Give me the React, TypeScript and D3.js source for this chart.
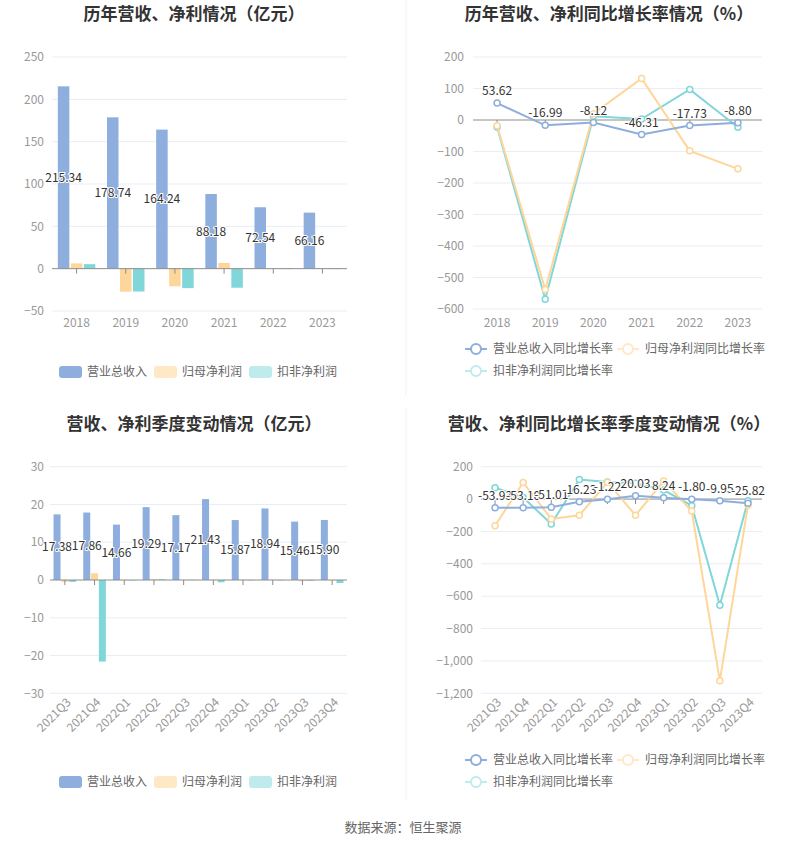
import React from 'react';
import * as d3 from 'd3';

// annual data (亿元)
const years = ['2018', '2019', '2020', '2021', '2022', '2023'];
const yearRevenue = [215.34, 178.74, 164.24, 88.18, 72.54, 66.16];
const yearProfit = [6.2, -27.2, -20.8, 6.8, 0.2, -0.3];
const yearDeducted = [5.3, -27.0, -23.0, -22.5, -0.5, -0.5];

// annual growth (%)
const yearRevenueGrowth = [53.62, -16.99, -8.12, -46.31, -17.73, -8.8];
const yearProfitGrowth = [-18, -538, 20, 132, -98, -155];
const yearDeductedGrowth = [-22, -569, 12, 3, 97, -23];

// quarterly data (亿元)
const quarters = ['2021Q3', '2021Q4', '2022Q1', '2022Q2', '2022Q3', '2022Q4', '2023Q1', '2023Q2', '2023Q3', '2023Q4'];
const qRevenue = [17.38, 17.86, 14.66, 19.29, 17.17, 21.43, 15.87, 18.94, 15.46, 15.9];
const qProfit = [-0.5, 1.8, -0.1, 0.2, 0.05, 0.1, 0.1, 0.1, -0.3, -0.1];
const qDeducted = [-0.5, -21.6, -0.1, 0.2, 0.05, -0.6, -0.1, -0.1, -0.2, -0.8];

// quarterly growth (%)
const qRevenueGrowth = [-53.93, -53.1, -51.01, -16.23, -1.22, 20.03, 8.24, -1.8, -9.95, -25.82];
const qProfitGrowth = [-165, 103, -123, -100, 104, -100, 111, -74, -1123, -38];
const qDeductedGrowth = [70, 10, -154, 121, 105, 97, 56, -41, -656, -10];

const barTicks1 = [-50, 0, 50, 100, 150, 200, 250];
const barTicks3 = [-30, -20, -10, 0, 10, 20, 30];
const lineTicks2 = [-600, -500, -400, -300, -200, -100, 0, 100, 200];
const lineTicks4 = [-1200, -1000, -800, -600, -400, -200, 0, 200];

const barNames = ['营业总收入', '归母净利润', '扣非净利润'];
const lineNames = ['营业总收入同比增长率', '归母净利润同比增长率', '扣非净利润同比增长率'];

const FONT = '"Noto Sans CJK SC", "Noto Sans", sans-serif';
const BLUE = '#8eaedd';
const ORANGE = '#ffd699';
const TEAL = '#80d6d8';
const LEGEND = [BLUE, '#ffe8c5', '#c0ebec'];
const GRID = '#e9edf5';
const AXIS = '#8c8c8c';
const LABEL = '#999';

const fmt = d3.format(',');

function Title({ x, y, text }) {
  return (
    <text x={x} y={y} textAnchor="middle" fontSize={17} fontWeight="bold" fill="#333" fontFamily={FONT}>{text}</text>
  );
}

function YAxis({ y, ticks, x0, x1, labelX }) {
  return (
    <g fontFamily={FONT} fontSize={12} fill={LABEL}>
      {ticks.map(t => (
        <g key={t}>
          {t !== 0 && <line x1={x0} x2={x1} y1={y(t)} y2={y(t)} stroke={GRID} />}
          <text x={labelX} y={y(t)} dy="0.35em" textAnchor="end">{fmt(t)}</text>
        </g>
      ))}
    </g>
  );
}

function ZeroAxis({ x, y, cats, x0, x1 }) {
  return (
    <g>
      <line x1={x0} x2={x1} y1={y(0)} y2={y(0)} stroke={AXIS} />
      {cats.map(c => (
        <line key={c} x1={x(c) + x.bandwidth() / 2} x2={x(c) + x.bandwidth() / 2} y1={y(0)} y2={y(0) + 5} stroke={AXIS} />
      ))}
    </g>
  );
}

function XLabels({ x, cats, y, rotate }) {
  return (
    <g fontFamily={FONT} fontSize={12} fill={LABEL}>
      {cats.map(c => {
        const cx = x(c) + x.bandwidth() / 2;
        return rotate ? (
          <text key={c} transform={`translate(${cx + 4},${y}) rotate(-45)`} textAnchor="end" dy="0.35em">{c}</text>
        ) : (
          <text key={c} x={cx} y={y} textAnchor="middle" dy="0.35em">{c}</text>
        );
      })}
    </g>
  );
}

function BarPanel({ title, titleY, cats, series, domain, ticks, range, x0, x1, labelX, barW, gap, xLabelY, rotate, legendY }) {
  const x = d3.scaleBand().domain(cats).range([x0, x1]);
  const y = d3.scaleLinear().domain(domain).range(range);
  const colors = [BLUE, ORANGE, TEAL];
  const groupW = barW * 3 + gap * 2;
  const legendX = [59, 154, 249];
  return (
    <g>
      <Title x={194} y={titleY} text={title} />
      <YAxis y={y} ticks={ticks} x0={x0} x1={x1} labelX={labelX} />
      {series.map((s, si) => (
        <g key={si}>
          {s.map((v, i) => {
            const bx = x(cats[i]) + (x.bandwidth() - groupW) / 2 + si * (barW + gap);
            return <rect key={i} x={bx} width={barW} y={Math.min(y(v), y(0))} height={Math.abs(y(v) - y(0))} fill={colors[si]} />;
          })}
        </g>
      ))}
      <ZeroAxis x={x} y={y} cats={cats} x0={x0} x1={x1} />
      <g fontFamily={FONT} fontSize={12} fill="#333" textAnchor="middle">
        {series[0].map((v, i) => {
          const bx = x(cats[i]) + (x.bandwidth() - groupW) / 2 + barW / 2;
          return (
            <text key={i} x={bx} y={(y(v) + y(0)) / 2} dy="0.35em" stroke="#fff" strokeWidth={2} paintOrder="stroke">{v.toFixed(2)}</text>
          );
        })}
      </g>
      <XLabels x={x} cats={cats} y={xLabelY} rotate={rotate} />
      <g fontFamily={FONT} fontSize={12} fill="#666">
        {barNames.map((n, i) => (
          <g key={n}>
            <rect x={legendX[i]} y={legendY - 6} width={23} height={12} rx={3} fill={LEGEND[i]} />
            <text x={legendX[i] + 28} y={legendY} dy="0.35em">{n}</text>
          </g>
        ))}
      </g>
    </g>
  );
}

function LinePanel({ title, titleY, cats, series, domain, ticks, range, x0, x1, labelX, xLabelY, rotate, legendY }) {
  const x = d3.scaleBand().domain(cats).range([x0, x1]);
  const y = d3.scaleLinear().domain(domain).range(range);
  const colors = [BLUE, ORANGE, TEAL];
  const cx = (c) => x(c) + x.bandwidth() / 2;
  const line = d3.line<number>().x((d, i) => cx(cats[i])).y(d => y(d));
  const legendPos = [[476, legendY], [628, legendY], [476, legendY + 22]];
  return (
    <g>
      <Title x={609} y={titleY} text={title} />
      <YAxis y={y} ticks={ticks} x0={x0} x1={x1} labelX={labelX} />
      <ZeroAxis x={x} y={y} cats={cats} x0={x0} x1={x1} />
      {[2, 1, 0].map(si => (
        <g key={si}>
          <path d={line(series[si]) || ''} fill="none" stroke={colors[si]} strokeWidth={2} />
          {series[si].map((v, i) => (
            <circle key={i} cx={cx(cats[i])} cy={y(v)} r={3} fill="#fff" stroke={colors[si]} strokeWidth={1.5} />
          ))}
        </g>
      ))}
      <g fontFamily={FONT} fontSize={12} fill="#333" textAnchor="middle">
        {series[0].map((v, i) => (
          <text key={i} x={cx(cats[i])} y={y(v) - 8} stroke="#fff" strokeWidth={2} paintOrder="stroke">{v.toFixed(2)}</text>
        ))}
      </g>
      <XLabels x={x} cats={cats} y={xLabelY} rotate={rotate} />
      <g fontFamily={FONT} fontSize={12} fill="#666">
        {lineNames.map((n, i) => {
          const [lx, ly] = legendPos[i];
          const c = i === 0 ? BLUE : LEGEND[i];
          return (
            <g key={n}>
              <line x1={lx - 11} x2={lx + 11} y1={ly} y2={ly} stroke={c} strokeWidth={2} />
              <circle cx={lx} cy={ly} r={5} fill="#fff" stroke={c} strokeWidth={2} />
              <text x={lx + 17} y={ly} dy="0.35em">{n}</text>
            </g>
          );
        })}
      </g>
    </g>
  );
}

export default function App() {
  return (
    <svg width={807} height={846} style={{ position: 'absolute', left: 0, top: 0, background: '#fff' }}>
      <line x1={406} x2={406} y1={0} y2={395} stroke="#f2f2f2" />
      <line x1={406} x2={406} y1={408} y2={800} stroke="#f2f2f2" />
      <BarPanel
        title="历年营收、净利情况（亿元）" titleY={20}
        cats={years} series={[yearRevenue, yearProfit, yearDeducted]}
        domain={[-50, 250]} ticks={barTicks1} range={[311, 57]}
        x0={52} x1={347} labelX={44} barW={11.5} gap={1.5}
        xLabelY={323} rotate={false} legendY={372}
      />
      <LinePanel
        title="历年营收、净利同比增长率情况（%）" titleY={20}
        cats={years} series={[yearRevenueGrowth, yearProfitGrowth, yearDeductedGrowth]}
        domain={[-600, 200]} ticks={lineTicks2} range={[309, 57]}
        x0={473} x1={762} labelX={464}
        xLabelY={323} rotate={false} legendY={349}
      />
      <BarPanel
        title="营收、净利季度变动情况（亿元）" titleY={430}
        cats={quarters} series={[qRevenue, qProfit, qDeducted]}
        domain={[-30, 30]} ticks={barTicks3} range={[693.3, 466.7]}
        x0={50} x1={347} labelX={44} barW={7} gap={0.8}
        xLabelY={700} rotate={true} legendY={782}
      />
      <LinePanel
        title="营收、净利同比增长率季度变动情况（%）" titleY={430}
        cats={quarters} series={[qRevenueGrowth, qProfitGrowth, qDeductedGrowth]}
        domain={[-1200, 200]} ticks={lineTicks4} range={[693.3, 466.7]}
        x0={481} x1={762} labelX={473}
        xLabelY={700} rotate={true} legendY={760}
      />
      <text x={403} y={827} dy="0.35em" textAnchor="middle" fontSize={13} fill="#666" fontFamily={FONT}>数据来源：恒生聚源</text>
    </svg>
  );
}
